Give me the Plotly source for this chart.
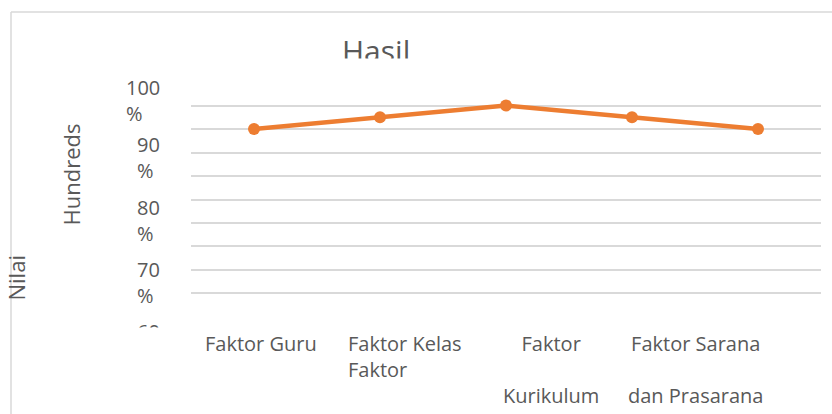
import plotly.graph_objects as go

# ---- data ----
values = [0.92, 0.94, 0.96, 0.94, 0.92]
x_labels = ["Faktor Guru", "Faktor Kelas<br>Faktor", "Faktor<br><br>Kurikulum",
            "Faktor Sarana<br><br>dan Prasarana"]
y_tick_values = [1.0, 0.9, 0.8, 0.7, 0.6]
y_tick_labels = ["100<br>%", "90<br>%", "80<br>%", "70<br>%", "60<br>%"]
title_text = "Hasil"
y_title = "Hundreds"
y_title2 = "Nilai"

# ---- layout geometry (pixels) ----
W, H = 832, 414
PL, PT = 191, 82            # plot area top-left
PW, PH = 630, 235           # plot area size
L, T = PL, PT
R = W - L - PW
B = H - T - PH
FONT = "Open Sans"
TXT = "#595959"
GRID = "#d9d9d9"


def px_x(px):
    return (px - PL) / PW


def px_y(py):
    return (PT + PH - py) / PH


fig = go.Figure()
fig.add_trace(go.Scatter(
    x=list(range(1, len(values) + 1)), y=values, mode="lines+markers",
    line=dict(color="#ED7D31", width=4.5),
    marker=dict(color="#ED7D31", size=12),
    showlegend=False, hoverinfo="skip"))

annotations = []
# title (clipped look)
annotations.append(dict(text=title_text, x=px_x(375.5), y=px_y(50), xref="paper", yref="paper",
                        xanchor="center", yanchor="middle", showarrow=False,
                        font=dict(family=FONT, size=30, color=TXT)))
annotations.append(dict(text=" ", x=px_x(375), y=px_y(58), xref="paper", yref="paper",
                        xanchor="center", yanchor="top", showarrow=False, width=120, height=18,
                        bgcolor="white", borderpad=0, font=dict(size=10)))

# y tick labels
label_centers = [100, 157.5, 220, 282.5, 344]
for lab, cy in zip(y_tick_labels, label_centers):
    annotations.append(dict(text=lab, x=px_x(161), y=px_y(cy), xref="paper", yref="paper",
                            xanchor="right", yanchor="middle", align="left", showarrow=False,
                            borderpad=0, font=dict(family=FONT, size=20, color=TXT)))
annotations.append(dict(text=" ", x=px_x(140), y=px_y(327), xref="paper", yref="paper",
                        xanchor="center", yanchor="top", showarrow=False, width=60, height=40,
                        bgcolor="white", borderpad=0, font=dict(size=10)))

# x category labels
x_pos = [260.5, 347.3, 550.5, 695.5]
x_anchor = ["center", "left", "center", "center"]
for lab, xp, xa in zip(x_labels, x_pos, x_anchor):
    annotations.append(dict(text=lab, x=px_x(xp), y=px_y(329), xref="paper", yref="paper",
                            xanchor=xa, yanchor="top", align="left" if xa == "left" else "center",
                            showarrow=False, borderpad=0,
                            font=dict(family=FONT, size=20, color=TXT)))

# axis titles
annotations.append(dict(text=y_title, x=px_x(70), y=px_y(174.5), xref="paper", yref="paper",
                        xanchor="center", yanchor="middle", textangle=-90, showarrow=False,
                        borderpad=0, font=dict(family=FONT, size=22, color=TXT)))
annotations.append(dict(text=y_title2, x=px_x(15), y=px_y(278.5), xref="paper", yref="paper",
                        xanchor="center", yanchor="middle", textangle=-90, showarrow=False,
                        borderpad=0, font=dict(family=FONT, size=22, color=TXT)))

shapes = [
    dict(type="line", xref="paper", yref="paper", x0=px_x(11), x1=px_x(W + 5),
         y0=px_y(12), y1=px_y(12), line=dict(color=GRID, width=1.5)),
    dict(type="line", xref="paper", yref="paper", x0=px_x(11), x1=px_x(11),
         y0=px_y(12), y1=px_y(H + 5), line=dict(color=GRID, width=1.5)),
]

fig.update_layout(
    width=W, height=H, margin=dict(l=L, r=R, t=T, b=B),
    paper_bgcolor="white", plot_bgcolor="white",
    annotations=annotations, shapes=shapes,
    xaxis=dict(range=[0.5, len(values) + 0.5], showgrid=False, showticklabels=False,
               zeroline=False, showline=False, ticks=""),
    yaxis=dict(range=[0.5999, 1.0001], tick0=0.6, dtick=0.04, showticklabels=False,
               gridcolor=GRID, gridwidth=2, zeroline=False, showline=False, ticks=""),
)

fig.write_html("out.html", config={"displayModeBar": False},
               post_script="document.body.style.margin='0';document.body.style.overflow='hidden';")
